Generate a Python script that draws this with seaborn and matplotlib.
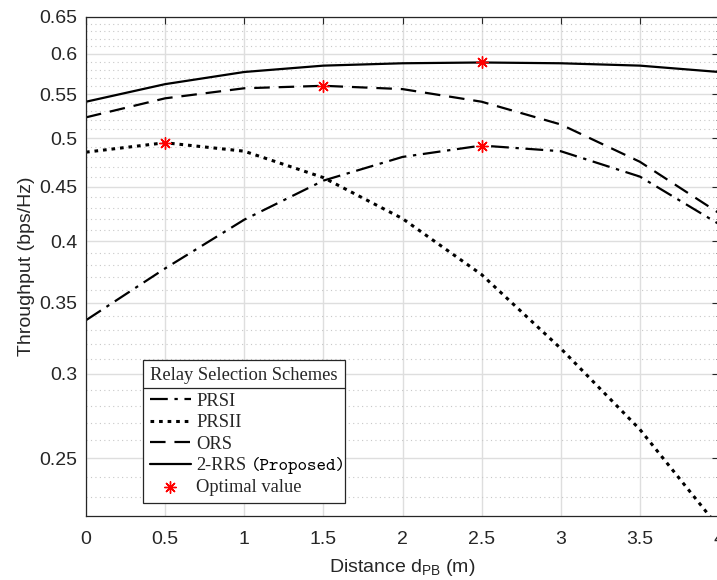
import numpy as np
import pandas as pd
import matplotlib
matplotlib.use("Agg")
import matplotlib.pyplot as plt
import seaborn as sns
from matplotlib.ticker import FixedLocator, NullFormatter, FixedFormatter
from matplotlib.lines import Line2D

distance = [0, 0.5, 1, 1.5, 2, 2.5, 3, 3.5, 4]
prsi = [0.337, 0.377, 0.419, 0.456, 0.480, 0.492, 0.486, 0.460, 0.415]
prsii = [0.485, 0.495, 0.486, 0.459, 0.420, 0.372, 0.317, 0.266, 0.215]
ors = [0.523, 0.545, 0.557, 0.560, 0.556, 0.541, 0.515, 0.475, 0.425]
rrs = [0.541, 0.562, 0.577, 0.585, 0.588, 0.589, 0.588, 0.585, 0.577]
opt_x = [0.5, 1.5, 2.5, 2.5]
opt_y = [0.495, 0.560, 0.589, 0.492]
series_names = ["PRSI", "PRSII", "ORS", "2-RRS"]
proposed_note = "(Proposed)"
yticks = [0.25, 0.3, 0.35, 0.4, 0.45, 0.5, 0.55, 0.6, 0.65]
ytick_labels = ["0.25", "0.3", "0.35", "0.4", "0.45", "0.5", "0.55", "0.6", "0.65"]
xticks = [0, 0.5, 1, 1.5, 2, 2.5, 3, 3.5, 4]
xtick_labels = ["0", "0.5", "1", "1.5", "2", "2.5", "3", "3.5", "4"]

sns.set_style("white")
plt.rcParams["font.family"] = ["Liberation Sans", "DejaVu Sans"]

fig = plt.figure(figsize=(7.17, 5.80), dpi=100)
ax = fig.add_axes([86/717, 1 - 516/580, (719 - 86)/717, (516 - 17)/580])

styles = [
    dict(linestyle=(0, (8, 3, 1.5, 3)), lw=1.6),
    dict(linestyle=(0, (1.2, 1.6)), lw=2.2),
    dict(linestyle=(0, (7, 4)), lw=1.6),
    dict(linestyle="-", lw=1.6),
]
for vals, name, st in zip([prsi, prsii, ors, rrs], series_names, styles):
    df = pd.DataFrame({"x": distance, "y": vals})
    sns.lineplot(data=df, x="x", y="y", ax=ax, color="black", label=name,
                 linestyle=st["linestyle"], linewidth=st["lw"])
odf = pd.DataFrame({"x": opt_x, "y": opt_y})
sns.scatterplot(data=odf, x="x", y="y", ax=ax, marker=(8, 2, 0), color="red",
                s=70, linewidth=1.0, edgecolor="red", label="Optimal value", zorder=5)

ax.set_yscale("log")
ax.set_xlim(0, 4)
ax.set_ylim(0.2205, 0.65)
ax.yaxis.set_major_locator(FixedLocator(yticks))
ax.yaxis.set_major_formatter(FixedFormatter(ytick_labels))
ax.yaxis.set_minor_locator(FixedLocator([round(0.22 + 0.01*i, 2) for i in range(44)]))
ax.yaxis.set_minor_formatter(NullFormatter())
ax.set_xticks(xticks)
ax.set_xticklabels(xtick_labels)

ax.grid(which="major", color="#dedede", linewidth=1.0, linestyle="-")
ax.grid(which="minor", axis="y", color="#c8c8c8", linewidth=0.8, linestyle=(0, (1, 3)))
ax.set_axisbelow(True)
ax.tick_params(which="both", direction="in", top=True, right=True, colors="#262626",
               labelsize=14, labelcolor="#262626")
ax.tick_params(which="major", length=5, width=0.8)
ax.tick_params(which="minor", length=2.5, width=0.6)
ax.tick_params(axis="x", pad=11)
ax.tick_params(axis="y", pad=6)
for sp in ax.spines.values():
    sp.set_color("#262626")
    sp.set_linewidth(0.9)

ax.set_xlabel("Distance $\\mathregular{d_{PB}}$ (m)", fontsize=14, color="#262626", labelpad=6)
ax.set_ylabel("Throughput (bps/Hz)", fontsize=14, color="#262626", labelpad=3)

leg = ax.legend(loc="lower left", bbox_to_anchor=((143 - 86)/633, (516 - 503)/499),
                title="Relay Selection Schemes", frameon=True, fancybox=False,
                edgecolor="#262626", handlelength=2.2, handletextpad=0.3,
                labelspacing=0.25, borderpad=0.38, borderaxespad=0,
                alignment="left",
                prop={"family": "Liberation Serif", "size": 13.3},
                title_fontproperties={"family": "Liberation Serif", "size": 13.3})
leg.get_frame().set_linewidth(0.9)
leg.get_frame().set_alpha(1)
leg._legend_box.sep = 6

fig.canvas.draw()
lb = leg.get_window_extent()
tb = leg.get_title().get_window_extent()
ysep = tb.y0 - 4
inv = fig.transFigure.inverted()
(x0, y0) = inv.transform((lb.x0, ysep))
(x1, _) = inv.transform((lb.x1, ysep))
fig.add_artist(Line2D([x0, x1], [y0, y0], transform=fig.transFigure, color="#262626", lw=0.9, zorder=10))

rrs_text = leg.get_texts()[3]
rb = rrs_text.get_window_extent()
px, py = inv.transform((rb.x1 + 5, (rb.y0 + rb.y1) / 2))
fig.text(px, py, proposed_note, family="cmtt10", fontsize=13, va="center", ha="left",
         color="black", zorder=11)

fig.savefig("out.png", dpi=100)
